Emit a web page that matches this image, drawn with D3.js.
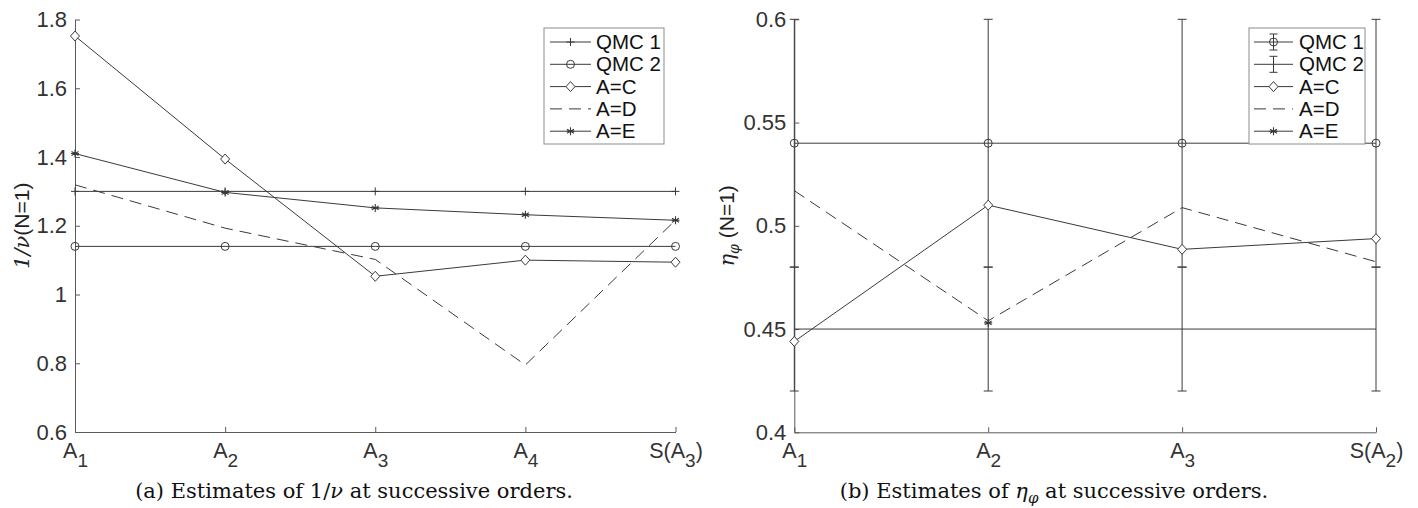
<!DOCTYPE html>
<html>
<head>
<meta charset="utf-8">
<script src="https://cdn.jsdelivr.net/npm/d3@7"></script>
<style>
  html, body { margin: 0; padding: 0; background: #fff; }
  svg { display: block; }
</style>
</head>
<body>
<svg id="chart" width="1418" height="508"></svg>
<script>
// ---- data: panel (a), estimates of 1/nu ----
const ordersA = ["A_1", "A_2", "A_3", "A_4", "S(A_3)"];
const yTicksA = [0.6, 0.8, 1.0, 1.2, 1.4, 1.6, 1.8];
const qmc1A = [1.30, 1.30, 1.30, 1.30, 1.30];
const qmc2A = [1.14, 1.14, 1.14, 1.14, 1.14];
const acA = [1.752, 1.394, 1.053, 1.100, 1.094];
const adA = [1.319, 1.193, 1.102, 0.795, 1.216];
const aeA = [1.410, 1.297, 1.252, 1.232, 1.216];

// ---- data: panel (b), estimates of eta_phi ----
const ordersB = ["A_1", "A_2", "A_3", "S(A_2)"];
const yTicksB = [0.4, 0.45, 0.5, 0.55, 0.6];
const qmc1B = [0.54, 0.54, 0.54, 0.54];
const qmc1BErr = [0.06, 0.06, 0.06, 0.06];
const qmc2B = [0.45, 0.45, 0.45, 0.45];
const qmc2BErr = [0.03, 0.03, 0.03, 0.03];
const acB = [0.444, 0.510, 0.4886, 0.4938];
const adB = [0.517, 0.454, 0.5088, 0.4826];
const aeB = [null, 0.453, null, null];

const legendLabels = ["QMC 1", "QMC 2", "A=C", "A=D", "A=E"];

const svg = d3.select("#chart");
const INK = "#3a3a3a";
const AXIS = "#5a5a5a";
const SANS = "'Liberation Sans', Arial, Helvetica, sans-serif";
const SERIF = "'DejaVu Serif', 'Liberation Serif', serif";

// marker painters, each draws into a group centred at (0,0)
const markers = {
  plus(g) {
    g.append("path").attr("d", "M-4,0H4M0,-4V4").attr("stroke", INK).attr("fill", "none");
  },
  circle(g) {
    g.append("circle").attr("r", 4).attr("fill", "none").attr("stroke", INK);
  },
  diamond(g) {
    g.append("path").attr("d", "M0,-5L4.5,0L0,5L-4.5,0Z").attr("fill", "#fff").attr("stroke", INK);
  },
  star(g) {
    g.append("path")
      .attr("d", "M0,-4V4M-3.5,-2L3.5,2M-3.5,2L3.5,-2M-4,0H4")
      .attr("stroke", INK).attr("fill", "none").attr("stroke-width", 1.1);
  },
  none() {}
};

// tick label with subscripts: "S(A_3)" -> S(A + sub 3 + )
function subLabel(textSel, label, size, subSize) {
  textSel.text(null);
  const parts = label.split(/_(.)/);
  parts.forEach((p, i) => {
    if (!p) return;
    if (i % 2 === 1) {
      textSel.append("tspan").attr("font-size", subSize).attr("dy", 9).text(p);
    } else {
      const t = textSel.append("tspan").attr("font-size", size).text(p);
      if (i > 0) t.attr("dy", -9);
    }
  });
}

function drawPanel(cfg) {
  const x = d3.scalePoint().domain(cfg.orders).range(cfg.xRange).padding(0);
  const y = d3.scaleLinear().domain(cfg.yDomain).range(cfg.yRange);
  const g = svg.append("g");

  // axes (left + bottom only, ticks pointing inward)
  const yAxis = d3.axisLeft(y).tickValues(cfg.yTicks).tickSizeInner(-5).tickSizeOuter(0)
    .tickPadding(8).tickFormat(cfg.yFmt);
  const gy = g.append("g").attr("transform", `translate(${cfg.xRange[0]},0)`).call(yAxis);
  const xAxis = d3.axisBottom(x).tickSizeInner(-5).tickSizeOuter(0).tickPadding(10);
  const gx = g.append("g").attr("transform", `translate(0,${cfg.yRange[0]})`).call(xAxis);
  [gx, gy].forEach(a => {
    a.attr("font-size", 22).attr("font-family", SANS);
    a.select(".domain").attr("stroke", AXIS);
    a.selectAll(".tick line").attr("stroke", AXIS);
    a.selectAll(".tick text").attr("fill", "#333");
  });
  gx.selectAll(".tick text").each(function (d) { subLabel(d3.select(this), d, 21.5, 19); });

  const line = d3.line().defined(v => v.v != null).x(v => x(v.k)).y(v => y(v.v));
  const toPts = arr => arr.map((v, i) => ({ k: cfg.orders[i], v }));
  const plot = g.append("g");

  cfg.series.forEach(s => {
    const pts = toPts(s.values);
    // error bars first
    if (s.err) {
      const cap = 4.5;
      pts.forEach((p, i) => {
        if (p.v == null) return;
        const px = x(p.k), y0 = y(p.v - s.err[i]), y1 = y(p.v + s.err[i]);
        plot.append("path")
          .attr("d", `M${px},${y0}V${y1}M${px - cap},${y0}H${px + cap}M${px - cap},${y1}H${px + cap}`)
          .attr("stroke", INK).attr("fill", "none");
      });
    }
    plot.append("path").datum(pts).attr("d", line)
      .attr("fill", "none").attr("stroke", INK).attr("stroke-width", 1)
      .attr("stroke-dasharray", s.dash || null);
    pts.filter(p => p.v != null).forEach(p => {
      const m = plot.append("g").attr("transform", `translate(${x(p.k)},${y(p.v)})`);
      markers[s.marker](m);
    });
  });

  // legend
  const L = cfg.legend;
  const lg = g.append("g").attr("transform", `translate(${L.x},${L.y})`);
  lg.append("rect").attr("width", L.w).attr("height", L.h)
    .attr("fill", "#fff").attr("stroke", "#8c8c8c").attr("stroke-width", 1);
  cfg.series.forEach((s, i) => {
    const cy = 14 + i * 22.3;
    const row = lg.append("g").attr("transform", `translate(0,${cy})`);
    row.append("path").attr("d", `M${L.sx0},0H${L.sx1}`).attr("stroke", INK)
      .attr("stroke-dasharray", s.dash || null);
    const mc = (L.sx0 + L.sx1) / 2;
    if (s.legendErr) {
      row.append("path").attr("d", `M${mc},-8V8M${mc - 4},-8H${mc + 4}M${mc - 4},8H${mc + 4}`)
        .attr("stroke", INK).attr("fill", "none");
    }
    markers[s.marker](row.append("g").attr("transform", `translate(${mc},0)`));
    row.append("text").attr("x", L.tx).attr("y", 7).attr("fill", "#111")
      .attr("font-family", SANS).attr("font-size", 20.5)
      .text(legendLabels[i]);
  });

  // y label
  const yl = svg.append("text")
    .attr("transform", `translate(${cfg.yLabelX},${(cfg.yRange[0] + cfg.yRange[1]) / 2}) rotate(-90)`)
    .attr("text-anchor", "middle").attr("fill", "#222")
    .attr("font-family", SANS).attr("font-size", 21);
  cfg.yLabel(yl);

  // caption
  const cap = svg.append("text").attr("x", cfg.captionX).attr("y", 498)
    .attr("text-anchor", "middle").attr("fill", "#111")
    .attr("font-family", SERIF).attr("font-size", 21);
  cfg.caption(cap);
}

drawPanel({
  orders: ordersA, xRange: [75, 675.5], yDomain: [0.6, 1.8], yRange: [432, 19.5],
  yTicks: yTicksA, yFmt: d3.format("~g"),
  series: [
    { values: qmc1A, marker: "plus" },
    { values: qmc2A, marker: "circle" },
    { values: acA, marker: "diamond" },
    { values: adA, marker: "none", dash: "12,7" },
    { values: aeA, marker: "star" }
  ],
  legend: { x: 544, y: 28, w: 120, h: 116, sx0: 6, sx1: 47, tx: 52 },
  yLabelX: 29,
  yLabel: t => {
    t.append("tspan").attr("font-style", "italic").attr("font-family", SERIF).text("1/ν");
    t.append("tspan").text("(N=1)");
  },
  captionX: 354,
  caption: t => {
    t.append("tspan").text("(a) Estimates of 1/");
    t.append("tspan").attr("font-style", "italic").text("ν");
    t.append("tspan").text(" at successive orders.");
  }
});

drawPanel({
  orders: ordersB, xRange: [794.3, 1376], yDomain: [0.4, 0.6], yRange: [432.3, 19.3],
  yTicks: yTicksB, yFmt: d3.format("~g"),
  series: [
    { values: qmc1B, err: qmc1BErr, marker: "circle", legendErr: true },
    { values: qmc2B, err: qmc2BErr, marker: "none", legendErr: true },
    { values: acB, marker: "diamond" },
    { values: adB, marker: "none", dash: "12,7" },
    { values: aeB, marker: "star" }
  ],
  legend: { x: 1249, y: 28, w: 116, h: 116, sx0: 5, sx1: 44, tx: 50 },
  yLabelX: 734,
  yLabel: t => {
    t.append("tspan").attr("font-style", "italic").attr("font-family", SERIF).text("η");
    t.append("tspan").attr("font-style", "italic").attr("font-family", SERIF)
      .attr("font-size", 14).attr("dy", 5).text("φ");
    t.append("tspan").attr("dy", -5).text(" (N=1)");
  },
  captionX: 1054,
  caption: t => {
    t.append("tspan").text("(b) Estimates of ");
    t.append("tspan").attr("font-style", "italic").text("η");
    t.append("tspan").attr("font-style", "italic").attr("font-size", 15).attr("dy", 5).text("φ");
    t.append("tspan").attr("dy", -5).text(" at successive orders.");
  }
});
</script>
</body>
</html>
